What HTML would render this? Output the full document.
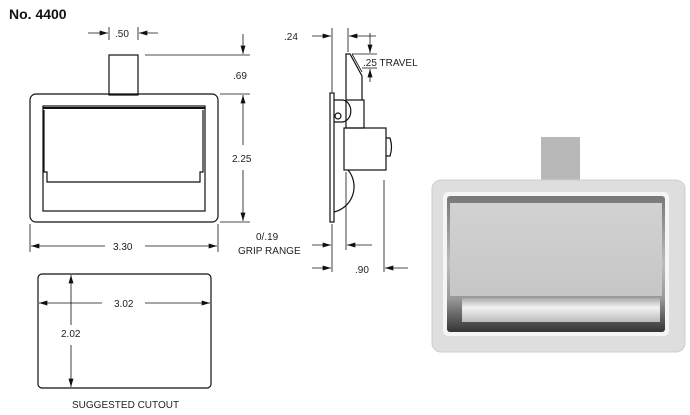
<!DOCTYPE html>
<html><head><style>
html,body{margin:0;padding:0;background:#fff;}
svg{display:block;}
text{font-family:"Liberation Sans",sans-serif;font-size:10px;fill:#222;}
</style></head><body>
<svg width="690" height="415" viewBox="0 0 690 415" xmlns="http://www.w3.org/2000/svg">
<defs>
<marker id="a" viewBox="0 0 10 6" refX="10" refY="3" markerWidth="9" markerHeight="5" orient="auto" markerUnits="userSpaceOnUse"><path d="M0,0 L10,3 L0,6 z" fill="#111"/></marker>
<linearGradient id="g1" x1="0" y1="0" x2="0" y2="1"><stop offset="0" stop-color="#d2d2d2"/><stop offset="1" stop-color="#c6c6c6"/></linearGradient>
<linearGradient id="g2" x1="0" y1="0" x2="0" y2="1"><stop offset="0" stop-color="#777"/><stop offset="0.5" stop-color="#bbb"/><stop offset="0.75" stop-color="#999"/><stop offset="1" stop-color="#333"/></linearGradient>
<linearGradient id="g3" x1="0" y1="0" x2="0" y2="1"><stop offset="0" stop-color="#aaa"/><stop offset="0.4" stop-color="#f2f2f2"/><stop offset="1" stop-color="#bbb"/></linearGradient>
</defs>
<text x="9" y="19" style="font-size:14px;font-weight:bold;fill:#111">No. 4400</text>

<g stroke="#111" stroke-width="1.2" fill="none">
<rect x="109" y="55" width="29" height="40"/>
<rect x="30" y="94" width="188" height="128" rx="6"/>
<rect x="43" y="106" width="162" height="105"/>
<line x1="43" y1="108" x2="205" y2="108" stroke-width="2"/>
<path d="M44,110 V172 H47 V182 H200 V172 H203 V110"/>
<line x1="109" y1="27" x2="109" y2="40" stroke-width="0.8"/>
<line x1="138" y1="27" x2="138" y2="40" stroke-width="0.8"/>
<line x1="88" y1="33" x2="108" y2="33" marker-end="url(#a)" stroke-width="0.8"/>
<line x1="158" y1="33" x2="139" y2="33" marker-end="url(#a)" stroke-width="0.8"/>
<line x1="145" y1="55" x2="250" y2="55" stroke-width="0.8"/>
<line x1="220" y1="94" x2="250" y2="94" stroke-width="0.8"/>
<line x1="220" y1="222" x2="250" y2="222" stroke-width="0.8"/>
<line x1="243" y1="34" x2="243" y2="54" marker-end="url(#a)" stroke-width="0.8"/>
<line x1="243" y1="145" x2="243" y2="95" marker-end="url(#a)" stroke-width="0.8"/>
<line x1="243" y1="170" x2="243" y2="221" marker-end="url(#a)" stroke-width="0.8"/>
<line x1="30" y1="224" x2="30" y2="252" stroke-width="0.8"/>
<line x1="218" y1="224" x2="218" y2="252" stroke-width="0.8"/>
<line x1="105" y1="246" x2="31" y2="246" marker-end="url(#a)" stroke-width="0.8"/>
<line x1="145" y1="246" x2="217" y2="246" marker-end="url(#a)" stroke-width="0.8"/>

<rect x="330" y="93" width="4" height="129"/>
<path d="M346,100 V54 H350 L362,76 V100"/>
<line x1="352" y1="54" x2="362" y2="72" stroke-width="0.8"/>
<path d="M334,100 H342 A8 10 0 0 1 342,122 H334"/>
<circle cx="338" cy="116" r="3"/>
<rect x="346" y="100" width="18" height="28"/>
<rect x="344" y="128" width="42" height="42"/>
<path d="M386,138 H390 Q393,147 390,156 H386"/>
<path d="M348,170 A26 26 0 0 1 334,212"/>
<line x1="332" y1="28" x2="332" y2="92" stroke-width="0.8"/>
<line x1="348" y1="28" x2="348" y2="52" stroke-width="0.8"/>
<line x1="312" y1="36" x2="331" y2="36" marker-end="url(#a)" stroke-width="0.8"/>
<line x1="376" y1="36" x2="349" y2="36" marker-end="url(#a)" stroke-width="0.8"/>
<line x1="370" y1="33" x2="370" y2="53" marker-end="url(#a)" stroke-width="0.8"/>
<line x1="352" y1="54" x2="377" y2="54" stroke-width="0.8"/>
<line x1="362" y1="68" x2="377" y2="68" stroke-width="0.8"/>
<line x1="370" y1="82" x2="370" y2="69" marker-end="url(#a)" stroke-width="0.8"/>
<line x1="332" y1="224" x2="332" y2="272" stroke-width="0.8"/>
<line x1="346" y1="172" x2="346" y2="250" stroke-width="0.8"/>
<line x1="384" y1="180" x2="384" y2="272" stroke-width="0.8"/>
<line x1="312" y1="245" x2="331" y2="245" marker-end="url(#a)" stroke-width="0.8"/>
<line x1="372" y1="245" x2="347" y2="245" marker-end="url(#a)" stroke-width="0.8"/>
<line x1="312" y1="268" x2="331" y2="268" marker-end="url(#a)" stroke-width="0.8"/>
<line x1="408" y1="268" x2="385" y2="268" marker-end="url(#a)" stroke-width="0.8"/>

<rect x="38" y="274" width="173" height="114" rx="4"/>
<line x1="71" y1="325" x2="71" y2="275" marker-end="url(#a)" stroke-width="0.8"/>
<line x1="71" y1="345" x2="71" y2="387" marker-end="url(#a)" stroke-width="0.8"/>
<line x1="102" y1="303" x2="39" y2="303" marker-end="url(#a)" stroke-width="0.8"/>
<line x1="145" y1="303" x2="210" y2="303" marker-end="url(#a)" stroke-width="0.8"/>
</g>

<text x="115" y="37">.50</text>
<text x="233" y="79">.69</text>
<text x="232" y="162">2.25</text>
<text x="113" y="250">3.30</text>
<text x="284" y="40">.24</text>
<text x="363" y="66">.25 TRAVEL</text>
<text x="256" y="240">0/.19</text>
<text x="238" y="254">GRIP RANGE</text>
<text x="355" y="273">.90</text>
<text x="114" y="307">3.02</text>
<text x="61" y="337">2.02</text>
<text x="72" y="408">SUGGESTED CUTOUT</text>

<rect x="541" y="137" width="39" height="45" fill="#b8b8b8"/>
<rect x="432" y="180" width="253" height="172" rx="9" fill="#dedede" stroke="#cfcfcf"/>
<rect x="443" y="192" width="226" height="144" rx="5" fill="#f5f5f5"/>
<rect x="447" y="196" width="218" height="136" rx="3" fill="url(#g2)"/>
<rect x="450" y="203" width="212" height="93" fill="url(#g1)"/>
<rect x="462" y="298" width="198" height="24" fill="url(#g3)"/>
</svg>
</body></html>
